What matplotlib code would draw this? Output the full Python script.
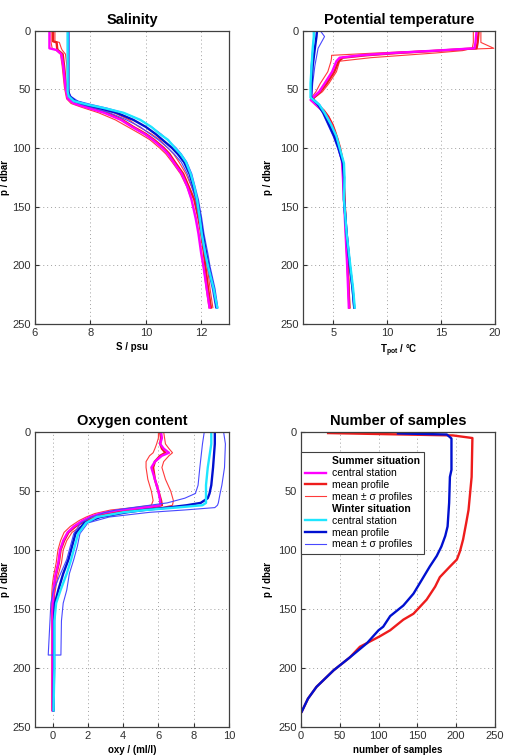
import matplotlib
matplotlib.use("Agg")
import matplotlib.pyplot as plt
import numpy as np
from matplotlib.lines import Line2D

plt.rcParams['font.family'] = ['Liberation Sans', 'DejaVu Sans']
plt.rcParams['mathtext.fontset'] = 'custom'
plt.rcParams['mathtext.rm'] = 'Liberation Sans'
plt.rcParams['mathtext.bf'] = 'Liberation Sans:bold'

# ---------------- data ----------------
# salinity, summer
sal_p_s = [0, 9, 10, 15, 16.5, 20, 30, 48, 58, 62, 65, 70, 76, 82, 88, 93, 100, 105,
           112, 122, 133, 144, 160, 173, 190, 201, 220, 236]
sal_cen_s = [6.52, 6.52, 6.52, 6.52, 6.78, 6.95, 7.02, 7.10, 7.18, 7.40, 7.80, 8.50, 9.10,
             9.50, 9.95, 10.25, 10.60, 10.80, 11.00, 11.30, 11.50, 11.65, 11.80, 11.90,
             12.00, 12.08, 12.20, 12.30]
sal_mean_s = [6.65, 6.65, 6.78, 6.80, 6.82, 7.00, 7.05, 7.12, 7.20, 7.45, 7.90, 8.60, 9.15,
              9.55, 10.00, 10.30, 10.65, 10.85, 11.05, 11.35, 11.55, 11.75, 11.90, 12.00,
              12.10, 12.15, 12.25, 12.35]
sal_lo_s = [6.58, 6.58, 6.58, 6.62, 6.75, 6.92, 6.98, 7.06, 7.14, 7.30, 7.65, 8.30, 8.90,
            9.35, 9.80, 10.15, 10.50, 10.72, 10.95, 11.25, 11.48, 11.65, 11.82, 11.92,
            12.02, 12.08, 12.18, 12.28]
sal_hi_s = [6.72, 6.72, 6.88, 6.95, 6.98, 7.10, 7.15, 7.20, 7.28, 7.60, 8.10, 8.85, 9.40,
            9.75, 10.20, 10.50, 10.80, 11.00, 11.20, 11.45, 11.65, 11.85, 11.98, 12.08,
            12.18, 12.22, 12.32, 12.42]
# salinity, winter
sal_p_w = [0, 52, 56, 60, 63, 66, 70, 76, 82, 88, 93, 100, 105, 112, 122, 133, 144, 160,
           173, 190, 201, 220, 236]
sal_cen_w = [7.18, 7.18, 7.22, 7.40, 7.90, 8.50, 9.20, 9.80, 10.20, 10.50, 10.80, 11.05,
             11.25, 11.45, 11.62, 11.75, 11.85, 11.95, 12.02, 12.15, 12.25, 12.45, 12.58]
sal_mean_w = [7.20, 7.20, 7.25, 7.45, 7.85, 8.35, 8.95, 9.55, 10.00, 10.35, 10.60, 10.95,
              11.15, 11.38, 11.58, 11.72, 11.85, 11.97, 12.05, 12.18, 12.27, 12.45, 12.56]
sal_lo_w = [7.17, 7.17, 7.22, 7.38, 7.70, 8.15, 8.70, 9.30, 9.80, 10.15, 10.45, 10.80,
            11.02, 11.28, 11.50, 11.66, 11.80, 11.92, 12.00, 12.12, 12.22, 12.40, 12.52]
sal_hi_w = [7.22, 7.22, 7.30, 7.55, 8.05, 8.60, 9.20, 9.80, 10.20, 10.55, 10.78, 11.10,
            11.28, 11.48, 11.66, 11.78, 11.90, 12.02, 12.10, 12.24, 12.32, 12.50, 12.60]

# potential temperature, summer
tem_p_s = [0, 10, 15, 17, 19, 21, 23, 26, 35, 45, 52, 57, 59, 63, 68, 73, 80, 85, 92, 100,
           110, 116, 125, 144, 173, 201, 236]
tem_cen_s = [18.3, 18.2, 18.1, 14.5, 10.5, 7.5, 5.6, 5.3, 4.9, 4.2, 3.7, 3.1, 2.9, 3.4, 4.0,
             4.4, 4.8, 5.0, 5.3, 5.5, 5.8, 5.85, 5.9, 6.0, 6.15, 6.3, 6.45]
tem_mean_s = [18.5, 18.4, 18.3, 14.8, 11.0, 8.0, 5.9, 5.5, 5.1, 4.4, 3.8, 3.2, 3.0, 3.5, 4.1,
              4.5, 4.9, 5.1, 5.35, 5.6, 5.85, 5.9, 5.95, 6.05, 6.2, 6.35, 6.5]
tem_lo_s = [18.7, 18.7, 19.9, 14.0, 9.0, 4.85, 4.85, 4.8, 4.5, 3.8, 3.4, 3.0, 2.9, 3.3, 3.9,
            4.3, 4.7, 4.95, 5.25, 5.5, 5.8, 5.85, 5.9, 6.0, 6.15, 6.3, 6.45]
tem_hi_s = [18.0, 18.0, 17.9, 17.0, 14.5, 11.5, 8.5, 5.6, 5.3, 4.6, 4.0, 3.3, 3.1, 3.6, 4.2,
            4.6, 5.0, 5.2, 5.45, 5.7, 5.9, 5.95, 6.0, 6.1, 6.25, 6.4, 6.55]
# potential temperature, winter
tem_p_w = [0, 5, 15, 30, 45, 57, 60, 63, 70, 80, 90, 100, 113, 125, 144, 173, 201, 220, 236]
tem_cen_w = [3.2, 3.2, 3.1, 3.0, 2.9, 2.9, 3.3, 3.7, 4.2, 4.8, 5.3, 5.6, 6.0, 6.05, 6.0,
             6.25, 6.6, 6.85, 7.0]
tem_mean_w = [3.5, 3.45, 3.3, 3.1, 3.0, 2.95, 3.3, 3.6, 4.1, 4.6, 5.1, 5.5, 5.9, 6.0, 6.0,
              6.25, 6.55, 6.8, 6.95]
tem_lo_w = [3.2, 3.2, 3.1, 2.95, 2.9, 2.9, 3.2, 3.5, 4.0, 4.5, 5.0, 5.4, 5.85, 5.95, 5.95,
            6.2, 6.5, 6.75, 6.9]
tem_hi_w = [3.8, 4.2, 3.6, 3.3, 3.1, 3.0, 3.4, 3.75, 4.25, 4.75, 5.2, 5.6, 6.0, 6.05, 6.05,
            6.3, 6.6, 6.85, 7.0]

# oxygen, summer
oxy_p_s = [0, 5, 10, 14, 17.5, 20, 25, 30, 40, 50, 58, 62, 64, 66, 69, 72, 75, 80, 85, 92,
           100, 111, 122, 130, 137, 150, 200, 236]
oxy_cen_s = [6.15, 6.2, 6.1, 6.3, 6.6, 6.2, 5.8, 5.6, 5.8, 6.0, 6.1, 6.1, 5.2, 3.8, 2.7,
             2.1, 1.7, 1.2, 0.85, 0.6, 0.42, 0.32, 0.15, 0.08, 0.04, 0.0, 0.0, 0.0]
oxy_mean_s = [6.1, 6.15, 6.1, 6.2, 6.4, 6.1, 5.8, 5.7, 5.8, 6.0, 6.15, 6.2, 5.5, 4.2, 3.0,
              2.3, 1.85, 1.3, 0.9, 0.65, 0.45, 0.35, 0.18, 0.1, 0.05, 0.02, 0.02, 0.02]
oxy_lo_s = [6.0, 6.0, 5.9, 5.8, 5.7, 5.5, 5.3, 5.3, 5.4, 5.6, 5.7, 5.6, 4.6, 3.3, 2.4, 1.9,
            1.5, 1.0, 0.65, 0.45, 0.3, 0.2, 0.05, -0.02, -0.05, -0.05, -0.05, -0.05]
oxy_hi_s = [6.3, 6.35, 6.4, 6.6, 6.8, 6.6, 6.3, 6.2, 6.4, 6.7, 6.85, 6.8, 6.2, 5.0, 3.6, 2.7,
            2.2, 1.6, 1.1, 0.8, 0.6, 0.5, 0.3, 0.2, 0.12, 0.06, 0.06, 0.06]
# oxygen, winter
oxy_p_w = [0, 10, 30, 45, 52, 56, 60, 62, 64, 66, 68, 72, 77, 86, 97, 108, 120, 134, 145,
           160, 189, 200, 236]
oxy_cen_w = [9.0, 9.0, 8.8, 8.7, 8.7, 8.7, 8.7, 8.5, 7.0, 5.3, 4.0, 2.5, 1.9, 1.45, 1.25,
             1.05, 0.8, 0.45, 0.2, 0.1, 0.1, 0.1, 0.05]
oxy_mean_w = [9.2, 9.2, 9.1, 9.0, 8.9, 8.8, 8.4, 7.6, 6.5, 5.2, 4.2, 2.7, 1.8, 1.3, 1.1, 0.9,
              0.6, 0.32, 0.13, 0.08, 0.08, 0.08, 0.05]
oxy_p_sig_w = [0, 10, 30, 45, 52, 56, 60, 62, 64, 66, 68, 72, 77, 86, 97, 108, 120, 134,
               145, 160, 189]
oxy_lo_w = [8.6, 8.5, 8.35, 8.25, 8.1, 7.5, 6.5, 5.5, 4.5, 3.6, 3.0, 2.2, 1.6, 1.2, 1.0, 0.8,
            0.45, 0.05, -0.1, -0.15, -0.25]
oxy_hi_w = [9.7, 9.8, 9.75, 9.6, 9.5, 9.45, 9.4, 9.35, 9.2, 7.5, 5.5, 3.2, 2.0, 1.55, 1.4,
            1.2, 0.95, 0.8, 0.6, 0.5, 0.47]

# number of samples (mean profiles)
num_p_s = [0.8, 2.8, 5, 38, 52, 66, 77, 91, 101, 108, 114, 123, 131, 142, 154, 159, 168,
           173, 182, 191, 202, 216, 226, 237]
num_s = [35, 196, 221, 220, 218, 216, 213, 209, 205, 201, 192, 179, 173, 162, 145, 132, 115,
         102, 76, 63, 42, 20, 9, 1]
num_p_w = [1.1, 2, 5.4, 32, 38, 60, 80, 88, 97, 105, 114, 125, 137, 147, 156, 165, 168, 179,
           191, 202, 216, 226, 237]
num_w = [125, 188, 194, 194, 192, 191, 189, 186, 181, 175, 166, 156, 145, 132, 115, 106, 100,
         85, 63, 42, 20, 9, 1]

# ---------------- style ----------------
C_CEN_S = '#ff00ff'
C_MEAN_S = '#ee1c1c'
C_SIG_S = '#ff3a3a'
C_CEN_W = '#1ee6ff'
C_MEAN_W = '#0010d0'
C_SIG_W = '#4848ff'
LW_THICK = 1.7
LW_THIN = 0.8


def style_axes(ax, title, xlabel, xlim, xticks, ylab_x):
    ax.set_xlim(*xlim)
    ax.set_ylim(250, 0)
    ax.set_xticks(xticks)
    ax.set_yticks([0, 50, 100, 150, 200, 250])
    ax.set_title(title, fontsize=10.5, fontweight='bold', pad=5)
    ax.set_xlabel(xlabel, fontsize=7, fontweight='bold', labelpad=3)
    ax.set_ylabel('p / dbar', fontsize=7, fontweight='bold')
    ax.yaxis.set_label_coords(ylab_x, 0.5)
    ax.grid(True, color='#a0a0a0', linestyle=(0, (1, 3)), linewidth=0.7)
    ax.tick_params(direction='in', length=3, labelsize=8, colors='#303030', pad=3)
    for sp in ax.spines.values():
        sp.set_color('#404040')
        sp.set_linewidth(0.9)


def draw_profiles(ax, p_s, cen_s, mean_s, lo_s, hi_s, p_w, cen_w, mean_w, lo_w, hi_w):
    ax.plot(lo_s, p_s, color=C_SIG_S, lw=LW_THIN)
    ax.plot(hi_s, p_s, color=C_SIG_S, lw=LW_THIN)
    ax.plot(mean_s, p_s, color=C_MEAN_S, lw=LW_THICK)
    ax.plot(cen_s, p_s, color=C_CEN_S, lw=LW_THICK)
    ax.plot(lo_w, p_w, color=C_SIG_W, lw=LW_THIN)
    ax.plot(hi_w, p_w, color=C_SIG_W, lw=LW_THIN)
    ax.plot(mean_w, p_w, color=C_MEAN_W, lw=LW_THICK)
    ax.plot(cen_w, p_w, color=C_CEN_W, lw=LW_THICK)


fig = plt.figure(figsize=(5.05, 7.56), dpi=100)
ax1 = fig.add_axes([0.0693, 0.5714, 0.384, 0.388])
ax2 = fig.add_axes([0.600, 0.5714, 0.380, 0.388])
ax3 = fig.add_axes([0.0693, 0.0384, 0.384, 0.390])
ax4 = fig.add_axes([0.596, 0.0384, 0.384, 0.390])

# salinity
draw_profiles(ax1, sal_p_s, sal_cen_s, sal_mean_s, sal_lo_s, sal_hi_s,
              sal_p_w, sal_cen_w, sal_mean_w, sal_lo_w, sal_hi_w)
style_axes(ax1, 'Salinity', 'S / psu', (6, 13), [6, 8, 10, 12], -0.13)

# potential temperature
draw_profiles(ax2, tem_p_s, tem_cen_s, tem_mean_s, tem_lo_s, tem_hi_s,
              tem_p_w, tem_cen_w, tem_mean_w, tem_lo_w, tem_hi_w)
style_axes(ax2, 'Potential temperature', r'$\mathbf{T_{pot}}$ / °C', (2.2, 20),
           [5, 10, 15, 20], -0.155)

# oxygen: winter sigma profiles stop at 189 dbar, drawn as one open envelope
ax3.plot(oxy_lo_s, oxy_p_s, color=C_SIG_S, lw=LW_THIN)
ax3.plot(oxy_hi_s, oxy_p_s, color=C_SIG_S, lw=LW_THIN)
ax3.plot(oxy_mean_s, oxy_p_s, color=C_MEAN_S, lw=LW_THICK)
ax3.plot(oxy_cen_s, oxy_p_s, color=C_CEN_S, lw=LW_THICK)
ax3.plot(oxy_lo_w + oxy_hi_w[::-1], oxy_p_sig_w + oxy_p_sig_w[::-1], color=C_SIG_W, lw=LW_THIN)
ax3.plot(oxy_mean_w, oxy_p_w, color=C_MEAN_W, lw=LW_THICK)
ax3.plot(oxy_cen_w, oxy_p_w, color=C_CEN_W, lw=LW_THICK)
style_axes(ax3, 'Oxygen content', 'oxy / (ml/l)', (-1, 10), [0, 2, 4, 6, 8, 10], -0.13)

# number of samples
ax4.plot(num_s, num_p_s, color=C_MEAN_S, lw=LW_THICK)
ax4.plot(num_w, num_p_w, color=C_MEAN_W, lw=LW_THICK)
style_axes(ax4, 'Number of samples', 'number of samples', (0, 250),
           [0, 50, 100, 150, 200, 250], -0.146)

blank = Line2D([], [], color='none')
handles = [blank,
           Line2D([], [], color=C_CEN_S, lw=LW_THICK),
           Line2D([], [], color=C_MEAN_S, lw=LW_THICK),
           Line2D([], [], color=C_SIG_S, lw=LW_THIN),
           blank,
           Line2D([], [], color=C_CEN_W, lw=LW_THICK),
           Line2D([], [], color=C_MEAN_W, lw=LW_THICK),
           Line2D([], [], color=C_SIG_W, lw=LW_THIN)]
labels = ['Summer situation', 'central station', 'mean profile', 'mean ± σ profiles',
          'Winter situation', 'central station', 'mean profile', 'mean ± σ profiles']
leg = ax4.legend(handles, labels, loc='upper left', bbox_to_anchor=(0.0, 0.932),
                 fontsize=7.5, frameon=True, fancybox=False, framealpha=1,
                 edgecolor='#404040', handlelength=2.0, handletextpad=0.6,
                 borderpad=0.4, labelspacing=0.18, borderaxespad=0)
leg.get_frame().set_linewidth(0.8)
for i in (0, 4):
    leg.get_texts()[i].set_fontweight('bold')

fig.savefig('out.png', dpi=100)
